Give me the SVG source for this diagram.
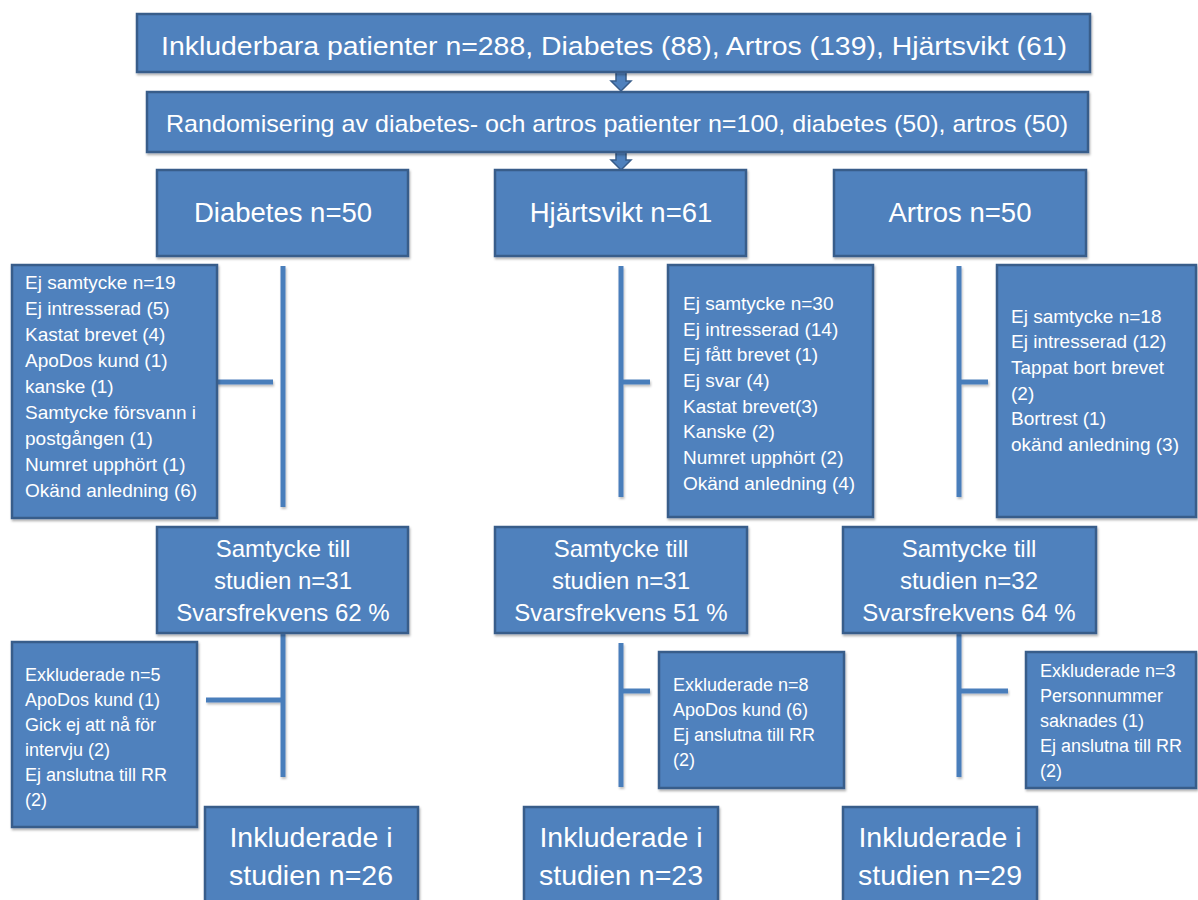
<svg xmlns="http://www.w3.org/2000/svg" width="1198" height="900" viewBox="0 0 1198 900">
<style>
.box{fill:#4F81BD;stroke:#385D8A;stroke-width:2.5;filter:url(#sh)}
.t{fill:#ffffff;font-family:"Liberation Sans",Arial,sans-serif}
.big{font-size:27.5px;text-anchor:middle}
.inc{font-size:28.5px;text-anchor:middle}
.mid{font-size:24px;text-anchor:middle}
.sm{font-size:19px}
.xs{font-size:18px}
.ln{stroke:#4A7EBB;stroke-width:5;fill:none}
.arr{fill:#4F81BD;stroke:#385D8A;stroke-width:1.5}
</style>
<defs>
<filter id="sh" x="-10%" y="-10%" width="130%" height="130%">
<feDropShadow dx="1" dy="2" stdDeviation="1.2" flood-color="#000" flood-opacity="0.3"/>
</filter>
<filter id="lsh" filterUnits="userSpaceOnUse" x="0" y="0" width="1198" height="900">
<feDropShadow dx="1" dy="2" stdDeviation="1" flood-color="#000" flood-opacity="0.25"/>
</filter>
</defs>
<rect width="1198" height="900" fill="#ffffff"/>

<g id="connectors">
<path class="arr" d="M616,72 H626 V81 H631 L621,91 L611,81 H616 Z"/>
<path class="arr" d="M616,152 H626 V160 H631 L621,170 L611,160 H616 Z"/>
<g filter="url(#lsh)">
<line class="ln" x1="283" y1="266" x2="283" y2="507"/>
<line class="ln" x1="217" y1="382" x2="273" y2="382"/>
<line class="ln" x1="621" y1="266" x2="621" y2="497"/>
<line class="ln" x1="621" y1="382" x2="650" y2="382"/>
<line class="ln" x1="959" y1="266" x2="959" y2="497"/>
<line class="ln" x1="959" y1="382" x2="988" y2="382"/>
<line class="ln" x1="283" y1="633" x2="283" y2="777"/>
<line class="ln" x1="206" y1="700" x2="283" y2="700"/>
<line class="ln" x1="621" y1="643" x2="621" y2="787"/>
<line class="ln" x1="621" y1="691" x2="650" y2="691"/>
<line class="ln" x1="959" y1="633" x2="959" y2="777"/>
<line class="ln" x1="959" y1="691" x2="1008" y2="691"/>
</g>
</g>

<g id="n-inkluderbara">
<rect class="box" x="137" y="14" width="953" height="58"/>
<text class="t big" x="614" y="55" textLength="906" lengthAdjust="spacingAndGlyphs" style="font-size:26px">Inkluderbara patienter n=288, Diabetes (88), Artros (139), Hjärtsvikt (61)</text>
</g>
<g id="n-randomisering">
<rect class="box" x="147" y="92" width="941" height="60"/>
<text class="t mid" x="617" y="132" textLength="902" lengthAdjust="spacingAndGlyphs">Randomisering av diabetes- och artros patienter n=100, diabetes (50), artros (50)</text>
</g>

<g id="n-diabetes">
<rect class="box" x="157" y="170" width="251" height="86"/>
<text class="t big" x="283" y="222">Diabetes n=50</text>
</g>
<g id="n-hjartsvikt">
<rect class="box" x="495" y="170" width="251" height="86"/>
<text class="t big" x="621" y="222">Hjärtsvikt n=61</text>
</g>
<g id="n-artros">
<rect class="box" x="834" y="170" width="252" height="86"/>
<text class="t big" x="960" y="222">Artros n=50</text>
</g>

<g id="n-diabetes-ej">
<rect class="box" x="12" y="265" width="205" height="253"/>
<text class="t sm" x="25" y="289">Ej samtycke n=19</text>
<text class="t sm" x="25" y="315">Ej intresserad (5)</text>
<text class="t sm" x="25" y="341">Kastat brevet (4)</text>
<text class="t sm" x="25" y="367">ApoDos kund (1)</text>
<text class="t sm" x="25" y="393">kanske (1)</text>
<text class="t sm" x="25" y="419">Samtycke försvann i</text>
<text class="t sm" x="25" y="445">postgången (1)</text>
<text class="t sm" x="25" y="471">Numret upphört (1)</text>
<text class="t sm" x="25" y="497">Okänd anledning (6)</text>
</g>
<g id="n-hjartsvikt-ej">
<rect class="box" x="668" y="265" width="205" height="252"/>
<text class="t sm" x="683" y="310">Ej samtycke n=30</text>
<text class="t sm" x="683" y="336">Ej intresserad (14)</text>
<text class="t sm" x="683" y="361">Ej fått brevet (1)</text>
<text class="t sm" x="683" y="387">Ej svar (4)</text>
<text class="t sm" x="683" y="413">Kastat brevet(3)</text>
<text class="t sm" x="683" y="438">Kanske (2)</text>
<text class="t sm" x="683" y="464">Numret upphört (2)</text>
<text class="t sm" x="683" y="490">Okänd anledning (4)</text>
</g>
<g id="n-artros-ej">
<rect class="box" x="997" y="265" width="199" height="252"/>
<text class="t sm" x="1011" y="323">Ej samtycke n=18</text>
<text class="t sm" x="1011" y="348">Ej intresserad (12)</text>
<text class="t sm" x="1011" y="374">Tappat bort brevet</text>
<text class="t sm" x="1011" y="400">(2)</text>
<text class="t sm" x="1011" y="425">Bortrest (1)</text>
<text class="t sm" x="1011" y="451">okänd anledning (3)</text>
</g>

<g id="n-diabetes-samtycke">
<rect class="box" x="157" y="527" width="251" height="106"/>
<text class="t mid" x="283" y="557">Samtycke till</text>
<text class="t mid" x="283" y="589">studien n=31</text>
<text class="t mid" x="283" y="621">Svarsfrekvens 62 %</text>
</g>
<g id="n-hjartsvikt-samtycke">
<rect class="box" x="495" y="527" width="252" height="106"/>
<text class="t mid" x="621" y="557">Samtycke till</text>
<text class="t mid" x="621" y="589">studien n=31</text>
<text class="t mid" x="621" y="621">Svarsfrekvens 51 %</text>
</g>
<g id="n-artros-samtycke">
<rect class="box" x="843" y="527" width="253" height="106"/>
<text class="t mid" x="969" y="557">Samtycke till</text>
<text class="t mid" x="969" y="589">studien n=32</text>
<text class="t mid" x="969" y="621">Svarsfrekvens 64 %</text>
</g>

<g id="n-diabetes-exkl">
<rect class="box" x="12" y="642" width="185" height="185"/>
<text class="t xs" x="25" y="681">Exkluderade n=5</text>
<text class="t xs" x="25" y="706">ApoDos kund (1)</text>
<text class="t xs" x="25" y="731">Gick ej att nå för</text>
<text class="t xs" x="25" y="756">intervju (2)</text>
<text class="t xs" x="25" y="781">Ej anslutna till RR</text>
<text class="t xs" x="25" y="806">(2)</text>
</g>
<g id="n-hjartsvikt-exkl">
<rect class="box" x="659" y="652" width="185" height="136"/>
<text class="t xs" x="673" y="691">Exkluderade n=8</text>
<text class="t xs" x="673" y="716">ApoDos  kund (6)</text>
<text class="t xs" x="673" y="741">Ej anslutna till RR</text>
<text class="t xs" x="673" y="766">(2)</text>
</g>
<g id="n-artros-exkl">
<rect class="box" x="1026" y="652" width="170" height="136"/>
<text class="t xs" x="1040" y="677">Exkluderade n=3</text>
<text class="t xs" x="1040" y="702">Personnummer</text>
<text class="t xs" x="1040" y="727">saknades (1)</text>
<text class="t xs" x="1040" y="752">Ej anslutna till RR</text>
<text class="t xs" x="1040" y="777">(2)</text>
</g>

<g id="n-diabetes-inkl">
<rect class="box" x="205" y="807" width="213" height="110"/>
<text class="t inc" x="311" y="847">Inkluderade i</text>
<text class="t inc" x="311" y="885">studien n=26</text>
</g>
<g id="n-hjartsvikt-inkl">
<rect class="box" x="524" y="807" width="194" height="110"/>
<text class="t inc" x="621" y="847">Inkluderade i</text>
<text class="t inc" x="621" y="885">studien n=23</text>
</g>
<g id="n-artros-inkl">
<rect class="box" x="843" y="807" width="194" height="110"/>
<text class="t inc" x="940" y="847">Inkluderade i</text>
<text class="t inc" x="940" y="885">studien n=29</text>
</g>
</svg>
